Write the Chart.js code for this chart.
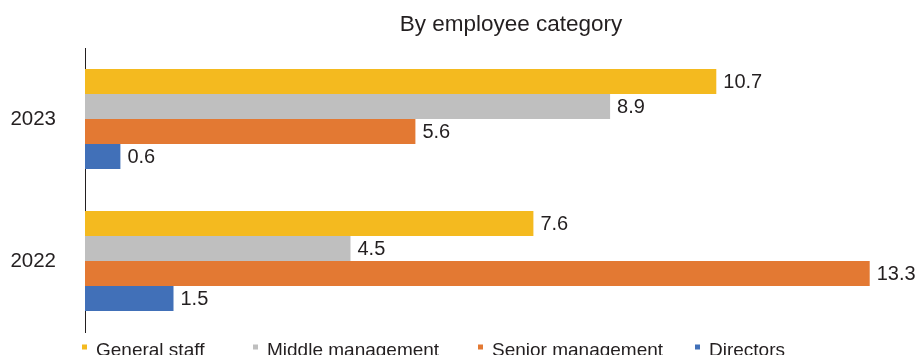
<!DOCTYPE html>
<html><head><meta charset="utf-8">
<script src="https://cdn.jsdelivr.net/npm/chart.js@4"></script>
<style>html,body{margin:0;padding:0;background:#fff}#wrap{width:921px;height:355px;position:relative}</style>
</head><body><div id="wrap"><canvas id="c" width="921" height="355"></canvas></div>
<script>
// ---- data ----
const categories = ['2023', '2022'];
const seriesNames = ['General staff', 'Middle management', 'Senior management', 'Directors'];
const generalStaff = [10.7, 7.6];
const middleManagement = [8.9, 4.5];
const seniorManagement = [5.6, 13.3];
const directors = [0.6, 1.5];
const titleText = 'By employee category';

// ---- styles ----
const FONT = '"Liberation Sans", Arial, Helvetica, sans-serif';
const TEXT = '#231F20';
const colors = ['#F4BA1F', '#BFBFBF', '#E37933', '#4170B8'];
const legendX = [82, 253, 478, 695];

const seriesValues = [generalStaff, middleManagement, seniorManagement, directors];

const titlePlugin = {
  id: 'titleText',
  afterDraw(chart) {
    const ctx = chart.ctx;
    ctx.save();
    ctx.font = '22.5px ' + FONT;
    ctx.fillStyle = TEXT;
    ctx.textAlign = 'center';
    ctx.textBaseline = 'alphabetic';
    ctx.fillText(titleText, 511, 31);
    ctx.restore();
  }
};

const valueLabels = {
  id: 'valueLabels',
  afterDatasetsDraw(chart) {
    const ctx = chart.ctx;
    ctx.save();
    ctx.font = '20px ' + FONT;
    ctx.fillStyle = TEXT;
    ctx.textAlign = 'left';
    ctx.textBaseline = 'middle';
    chart.data.datasets.forEach((ds, i) => {
      const meta = chart.getDatasetMeta(i);
      meta.data.forEach((el, j) => {
        ctx.fillText(ds.data[j].toFixed(1), el.x + 7, el.y + 1);
      });
    });
    ctx.restore();
  }
};

const customLegend = {
  id: 'customLegend',
  afterDraw(chart) {
    const ctx = chart.ctx;
    ctx.save();
    ctx.font = '19px ' + FONT;
    ctx.textAlign = 'left';
    ctx.textBaseline = 'alphabetic';
    chart.data.datasets.forEach((ds, i) => {
      const x = legendX[i];
      ctx.fillStyle = ds.backgroundColor;
      ctx.fillRect(x, 344.5, 5, 5);
      ctx.fillStyle = TEXT;
      ctx.fillText(ds.label, x + 14, 356);
    });
    ctx.restore();
  }
};

new Chart(document.getElementById('c'), {
  type: 'bar',
  data: {
    labels: categories,
    datasets: seriesNames.map((name, i) => ({
      label: name,
      data: seriesValues[i],
      backgroundColor: colors[i],
      borderWidth: 0,
      barPercentage: 1,
      categoryPercentage: 0.704
    }))
  },
  options: {
    indexAxis: 'y',
    responsive: false,
    animation: false,
    devicePixelRatio: 1,
    layout: { padding: { top: 48, bottom: 23, left: 0, right: 10 } },
    plugins: { legend: { display: false }, title: { display: false }, tooltip: { enabled: false } },
    scales: {
      x: { display: false, min: 0, max: 14 },
      y: {
        grid: { display: false, drawTicks: false },
        border: { display: true, color: '#231F20', width: 1 },
        ticks: { color: TEXT, font: { family: FONT, size: 20.5 }, padding: 29 },
        afterFit(scale) {
          scale.width = 85;
          scale.paddingTop = 0;
          scale.paddingBottom = 0;
        }
      }
    }
  },
  plugins: [titlePlugin, valueLabels, customLegend]
});
</script>
</body></html>
